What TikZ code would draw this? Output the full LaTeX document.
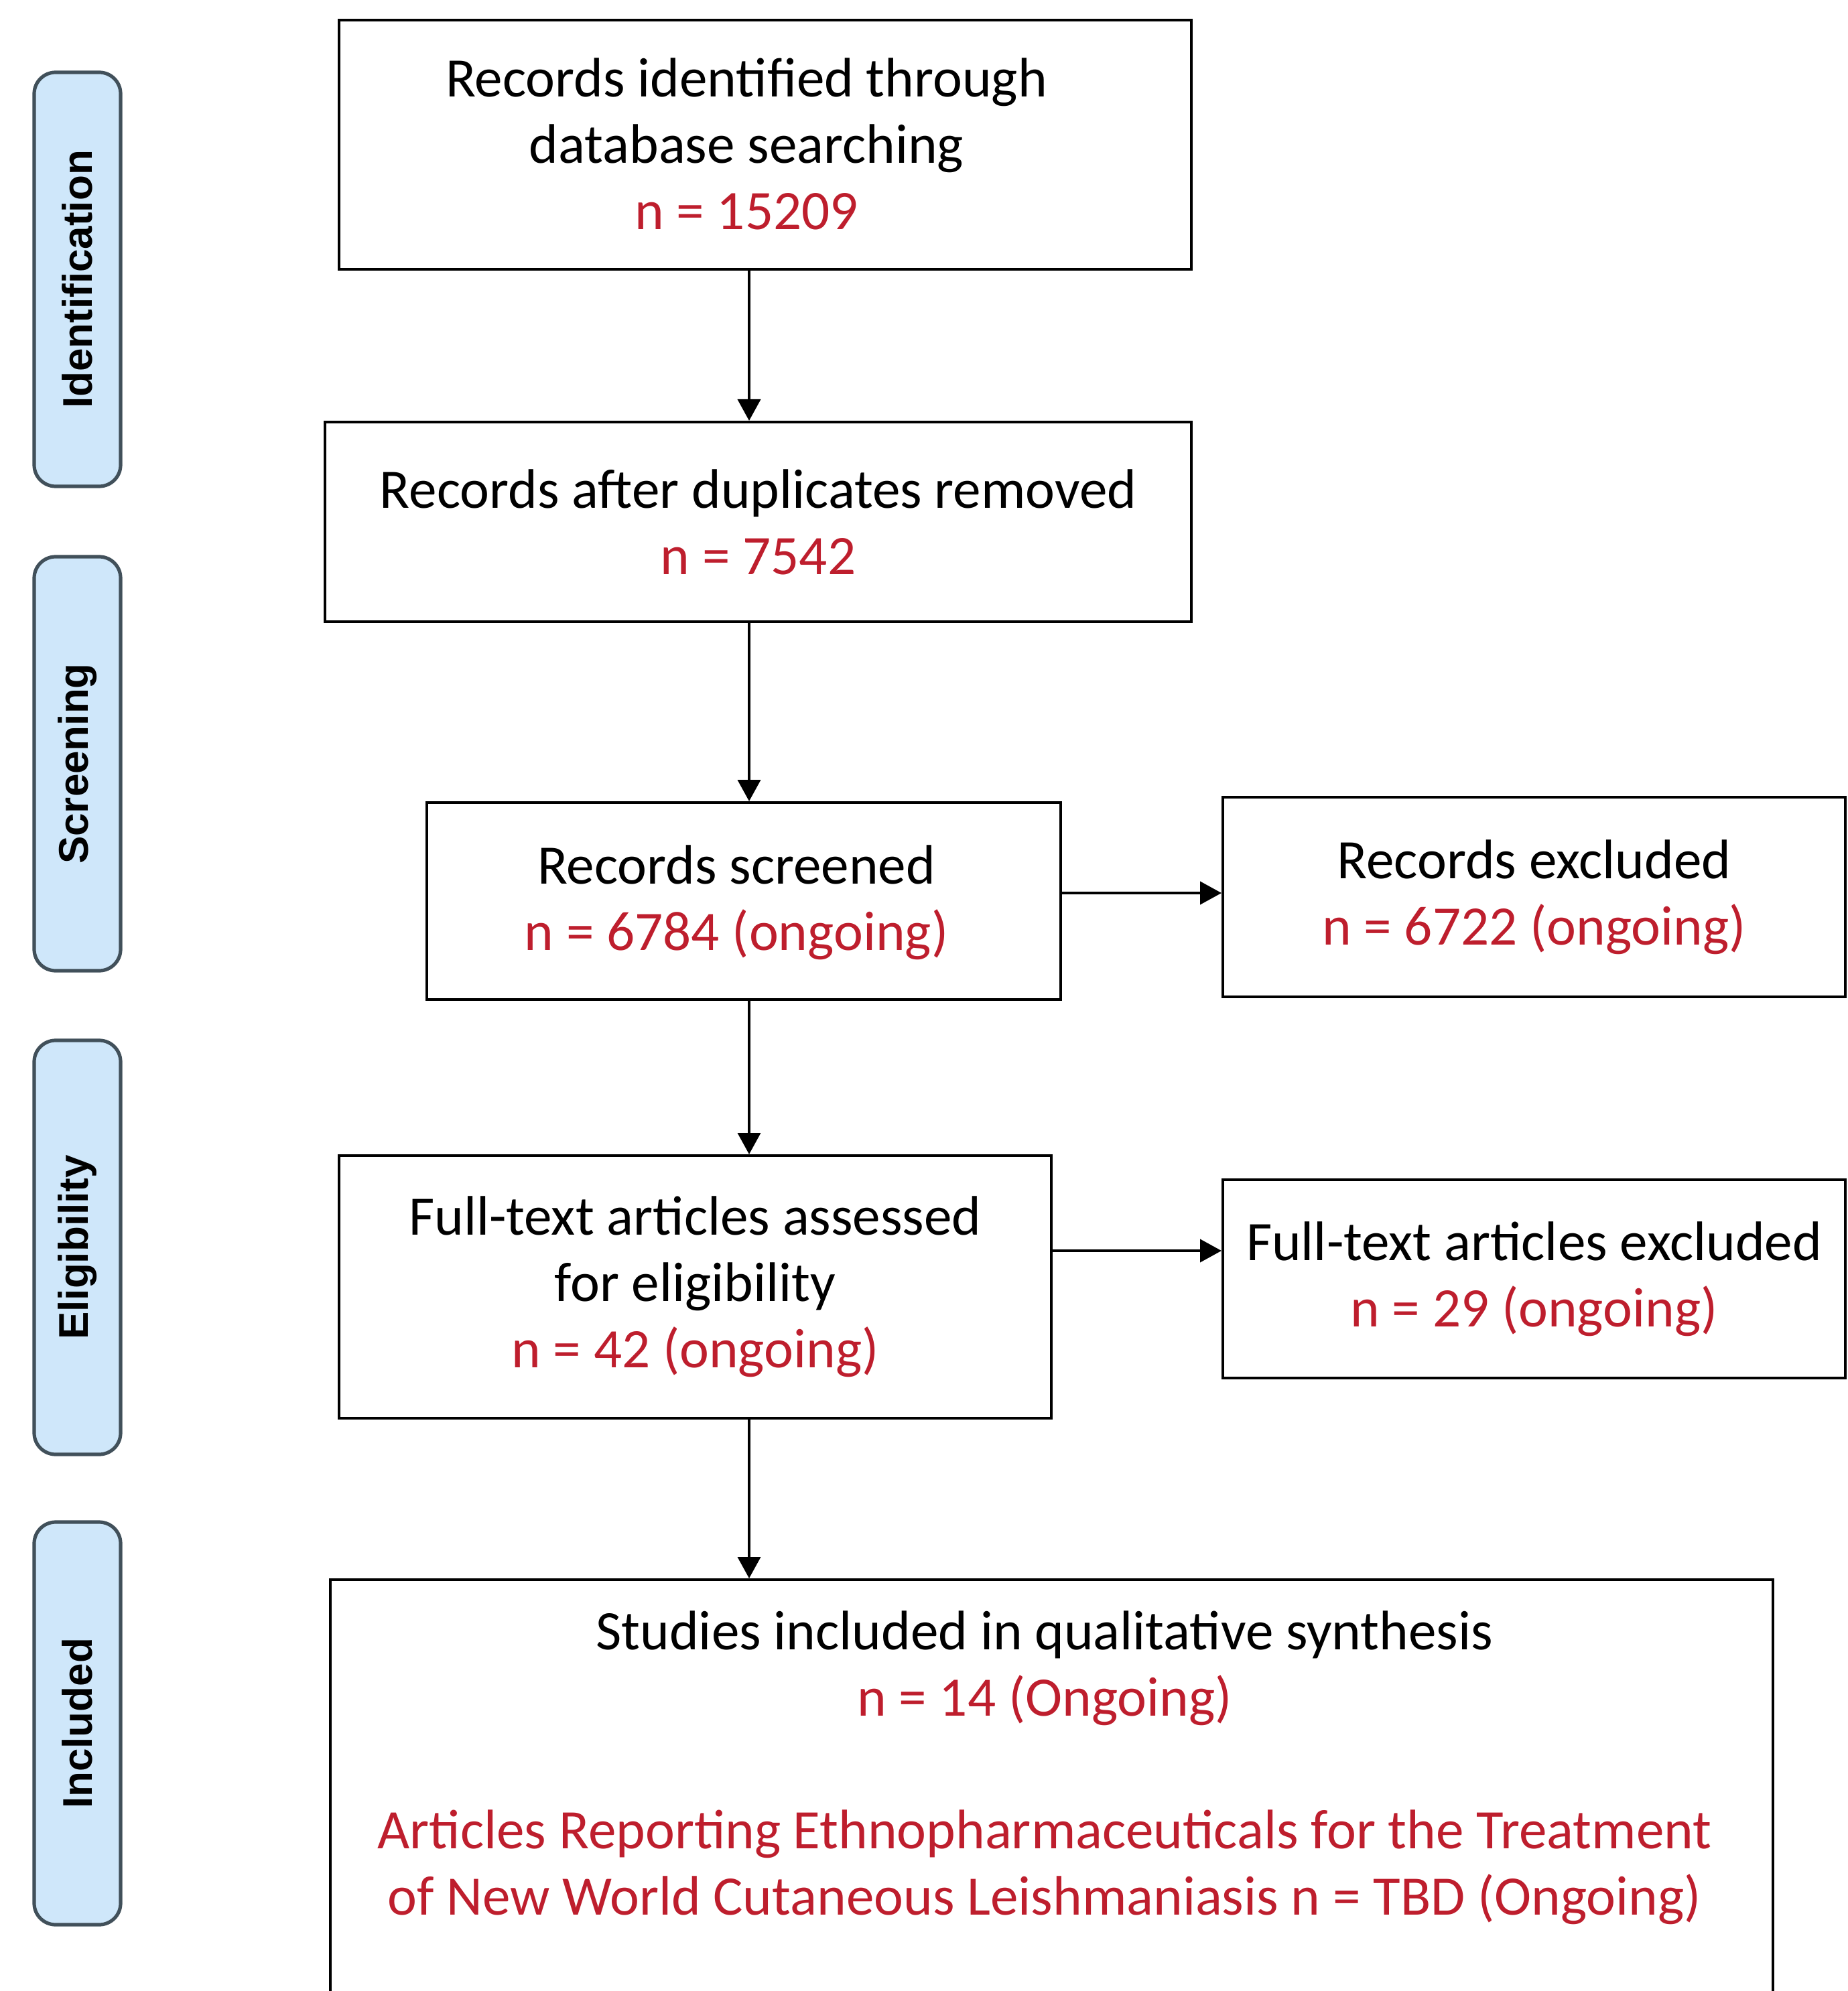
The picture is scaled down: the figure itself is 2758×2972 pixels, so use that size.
\documentclass[tikz,border=0pt]{standalone}
\usepackage{fontspec}
\setmainfont{Carlito}
\newfontfamily\stagefont{Liberation Sans}
\usepackage{tikz}
\usetikzlibrary{arrows.meta}
\definecolor{nred}{RGB}{190,30,45}
\definecolor{stagefill}{RGB}{207,231,250}
\definecolor{stageline}{RGB}{65,80,90}

\begin{document}
\begin{tikzpicture}[x=0.25pt,y=0.25pt,yscale=-1,xscale=1,
  box/.style={draw,line width=1pt,inner sep=0pt,align=center,font=\fontsize{20.8}{24.75}\selectfont},
  txt/.style={inner sep=0pt,align=center,font=\fontsize{20.8}{24.75}\selectfont},
  stage/.style={draw=stageline,fill=stagefill,line width=1.3pt,rounded corners=8pt,rotate=90,minimum width=154.5pt,minimum height=32.25pt,inner sep=0pt,font=\stagefont\bfseries\fontsize{15.5}{18}\selectfont},
  arr/.style={line width=1pt,-{Triangle[length=8pt,width=8.5pt]}}]
\useasboundingbox (0,0) rectangle (2758,2972);
% stage labels
\node [stage] (ident) at (115.5,417) {Identification};
\node [stage] (screen) at (115.5,1140) {Screening};
\node [stage] (elig) at (115.5,1862) {Eligibility};
\node [stage,minimum width=150.25pt] (incl) at (115.5,2572.5) {Included};
% boxes
\node [box,minimum width=318pt,minimum height=93pt] (found) at (1142,216) {\raisebox{-2pt}[\height][\depth]{\begin{tabular}{@{}c@{}}Records identified through\\database searching\\\textcolor{nred}{n = 15209}\end{tabular}}\hspace*{14pt}};
\node [box,minimum width=323.25pt,minimum height=74.5pt] (dedup) at (1131.5,779) {Records after duplicates removed\\\textcolor{nred}{n = 7542}};
\node [box,minimum width=236.5pt,minimum height=73.5pt] (screened) at (1110,1345) {\raisebox{-1pt}[\height][\depth]{\begin{tabular}{@{}c@{}}Records screened\\\textcolor{nred}{n = 6784 (ongoing)}\end{tabular}}\hspace*{5.5pt}};
\node [box,minimum width=232.25pt,minimum height=74.5pt] (recexcl) at (2289.5,1339) {Records excluded\\\textcolor{nred}{n = 6722 (ongoing)}};
\node [box,minimum width=265.75pt,minimum height=98pt] (fulltext) at (1037.5,1921) {Full-text articles assessed\\for eligibility\\\textcolor{nred}{n = 42 (ongoing)}};
\node [box,minimum width=232.25pt,minimum height=74pt] (ftexcl) at (2289.5,1909) {Full-text articles excluded\\\textcolor{nred}{n = 29 (ongoing)}};
\node [box,minimum width=538.25pt,minimum height=186pt,anchor=north] (studies) at (1569.5,2356) {};
\node [txt] (synth) at (1559,2639) {Studies included in qualitative synthesis\\\textcolor{nred}{n = 14 (Ongoing)}\\[24.75pt]\textcolor{nred}{Articles Reporting Ethnopharmaceuticals for the Treatment}\\\textcolor{nred}{of New World Cutaneous Leishmaniasis n = TBD (Ongoing)}};
% arrows
\coordinate (spine) at (1118,0);
\coordinate (row3) at (0,1333);
\coordinate (row4) at (0,1867);
\draw [arr] (found.south -| spine) -- (dedup.north -| spine);
\draw [arr] (dedup.south -| spine) -- (screened.north -| spine);
\draw [arr] (screened.south -| spine) -- (fulltext.north -| spine);
\draw [arr] (fulltext.south -| spine) -- (studies.north -| spine);
\draw [arr] (screened.east |- row3) -- (recexcl.west |- row3);
\draw [arr] (fulltext.east |- row4) -- (ftexcl.west |- row4);
\end{tikzpicture}
\end{document}
